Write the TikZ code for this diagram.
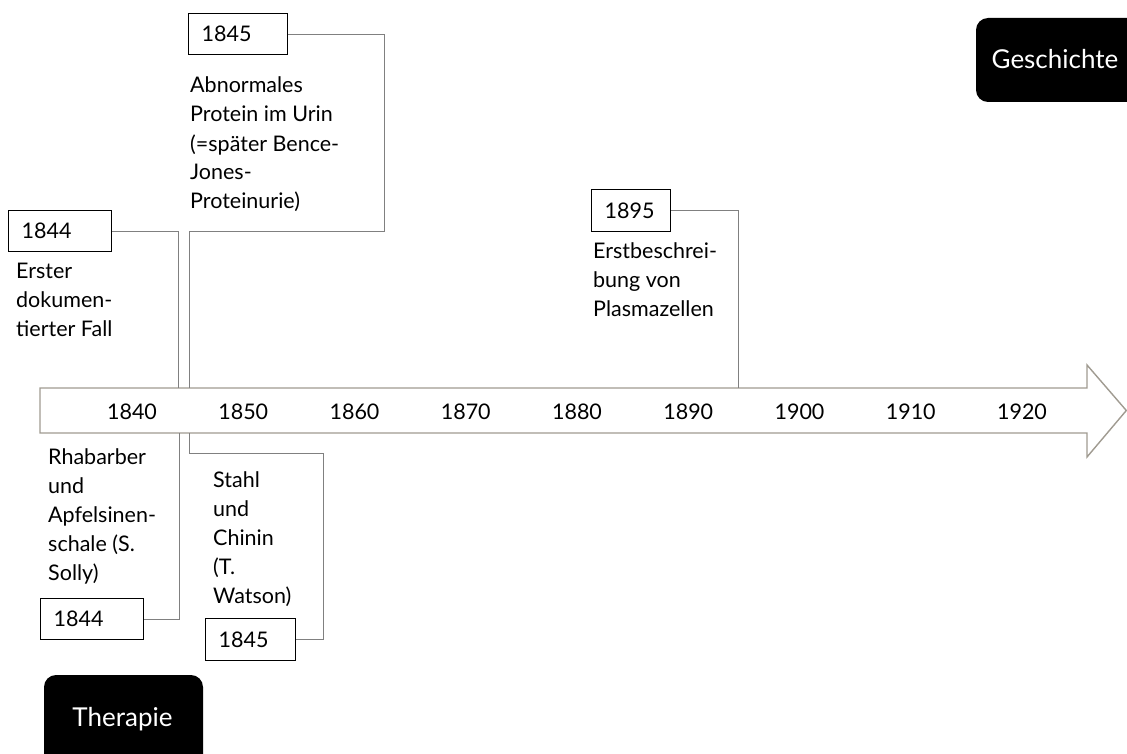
\documentclass[tikz,border=0pt]{standalone}
\usepackage{fontspec}
\setmainfont{Lato}
\definecolor{axisline}{RGB}{160,155,145}
\definecolor{linkgray}{RGB}{128,128,128}
\begin{document}
\begin{tikzpicture}[x=1pt,y=-1pt,
  body/.style={font=\fontsize{21.5}{29}\selectfont},
  note/.style={body, inner sep=0pt, align=left, anchor=base west},
  yearbox/.style={body, draw=black, line width=1.2pt, fill=white, anchor=north west,
    inner xsep=13pt, inner ysep=0pt, align=left},
  tick/.style={body, inner sep=0pt, anchor=base},
  link/.style={draw=linkgray, line width=0.9pt},
  badge/.style={fill=black, rounded corners=12pt},
  badgetext/.style={font=\fontsize{26}{30}\selectfont, text=white, inner sep=0pt, anchor=base}]

\useasboundingbox (0,0) rectangle (1127,754);

% time axis as a block arrow
\draw[axisline, line width=1.4pt, fill=white, line join=miter]
  (40,388) -- (1087,388) -- (1087,365) -- (1126.3,410.5) -- (1087,457)
  -- (1087,433) -- (40,433) -- cycle;
\foreach \yr [count=\i from 0] in {1840,1850,1860,1870,1880,1890,1900,1910,1920}
  \node[tick] (t\yr) at ({132+111.25*\i},419) {\yr};

% attachment points on the axis
\coordinate (a1844t) at (178,388);
\coordinate (a1845t) at (189,388);
\coordinate (a1895)  at (738,388);
\coordinate (a1844b) at (179,433);
\coordinate (a1845b) at (189,433);
\coordinate (k1845t) at (384,231);
\coordinate (j1845t) at (189,231);
\coordinate (k1845b) at (323,453);
\coordinate (j1845b) at (189,453);

% events above the axis (notes are placed by the baseline of their last line)
\node[yearbox, text width=77pt, minimum height=41pt] (y1844t) at (8,210) {1844};
\node[note] (e1844t) at (16,336) {Erster\\dokumen-\\tierter Fall};

\node[yearbox, text width=73pt, minimum height=41pt] (y1845t) at (188,13) {1845};
\node[note] (e1845t) at (190,209) {Abnormales\\Protein im Urin\\(=später Bence-\\Jones-\\Proteinurie)};

\node[yearbox, text width=53pt, minimum height=42pt] (y1895) at (591,189) {1895};
\node[note] (e1895) at (593,316) {Erstbeschrei-\\bung von\\Plasmazellen};

% events below the axis
\node[note] (e1844b) at (48,580) {Rhabarber\\und\\Apfelsinen-\\schale (S.\\Solly)};
\node[yearbox, text width=77pt, minimum height=41pt] (y1844b) at (40,598) {1844};

\node[note] (e1845b) at (213,603) {Stahl\\und\\Chinin\\(T.\\Watson)};
\node[yearbox, text width=64pt, minimum height=42pt] (y1845b) at (205,618) {1845};

% connectors from the year boxes to the axis
\draw[link] (y1844t.east) -| (a1844t);
\draw[link] (y1845t.east) -| (k1845t) -- (j1845t) -- (a1845t);
\draw[link] (y1895.east) -| (a1895);
\draw[link] (y1844b.east) -| (a1844b);
\draw[link] (y1845b.east) -| (k1845b) -- (j1845b) -- (a1845b);

% category badges
\fill[badge] (976,18) rectangle (1145,102);
\node[badgetext] (geschichte) at (1055,69) {Geschichte};
\fill[badge] (44,675) rectangle (203,772);
\node[badgetext] (therapie) at (122.5,726) {Therapie};
\end{tikzpicture}
\end{document}
